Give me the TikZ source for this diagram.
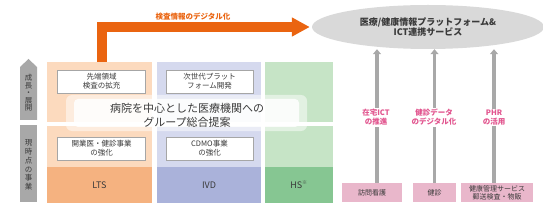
\documentclass[tikz,border=0pt]{standalone}
\usepackage{fontspec}
\setmainfont{Noto Sans CJK JP}
\usetikzlibrary{shapes.geometric,calc,arrows.meta,positioning}
\definecolor{ltslight}{HTML}{FCDABE}
\definecolor{ltsdark}{HTML}{F5B280}
\definecolor{ivdlight}{HTML}{D5D9EE}
\definecolor{ivddark}{HTML}{AAB2DA}
\definecolor{hslight}{HTML}{C6E4C6}
\definecolor{hsdark}{HTML}{86C692}
\definecolor{orangeline}{HTML}{EA6410}
\definecolor{pinktext}{HTML}{E2558F}
\definecolor{pinkbox}{HTML}{E9B7CB}
\definecolor{sidegray}{HTML}{A8A8A8}
\definecolor{textgray}{HTML}{3A3A3A}

\begin{document}
\begin{tikzpicture}[x=1pt,y=-1pt, every node/.style={font=\fontsize{7.5}{9}\selectfont, inner sep=0pt, text=textgray},
    plainbox/.style={draw=gray!70, fill=white, align=center, minimum width=88pt, minimum height=23pt},
    servicebox/.style={fill=pinkbox, align=center, minimum height=19pt, font=\fontsize{7}{8}\selectfont},
    uparrow/.style={draw=sidegray, line width=3.5pt, -{Triangle[length=5pt,width=8pt]}},
    pinklabel/.style={fill=white, align=center, text=pinktext, inner sep=1pt, font=\bfseries\fontsize{7.5}{9}\selectfont}]
    \useasboundingbox (0,0) rectangle (543,203);
    % side labels
    \fill[sidegray] (20,120) -- (20,67) -- (28.5,59) -- (37,67) -- (37,120) -- cycle;
    \fill[sidegray] (20,125) rectangle (37,202);
    \node[align=center, font=\fontsize{7.5}{7.5}\selectfont] (growth) at (28.5,93) {成\\長\\・\\展\\開};
    \node[align=center, font=\fontsize{7.5}{8.8}\selectfont] (current) at (28.5,165) {現\\時\\点\\の\\事\\業};
    % columns
    \node[fill=ltslight, minimum width=105pt, minimum height=60pt] (ltsup) at (99.5,92) {};
    \node[fill=ltslight, minimum width=105pt, minimum height=41pt] (ltslow) at (99.5,146.5) {};
    \node[fill=ltsdark, minimum width=105pt, minimum height=36pt, font=\fontsize{9}{10}\selectfont] (lts) at (99.5,185) {LTS};
    \node[fill=ivdlight, minimum width=104pt, minimum height=60pt] (ivdup) at (209,92) {};
    \node[fill=ivdlight, minimum width=104pt, minimum height=41pt] (ivdlow) at (209,146.5) {};
    \node[fill=ivddark, minimum width=104pt, minimum height=36pt, font=\fontsize{9}{10}\selectfont] (ivd) at (209,185) {IVD};
    \node[fill=hslight, minimum width=68pt, minimum height=60pt] (hsup) at (299,92) {};
    \node[fill=hslight, minimum width=68pt, minimum height=41pt] (hslow) at (299,146.5) {};
    \node[fill=hsdark, minimum width=68pt, minimum height=36pt, font=\fontsize{9}{10}\selectfont] (hs) at (299,185) {HS\textsuperscript{\fontsize{5}{5}\selectfont ※}};
    % inner boxes
    \node[plainbox] (frontier) at (101.5,81.5) {先端領域\\検査の拡充};
    \node[plainbox, minimum width=87pt] (nextgen) at (209.5,81.5) {次世代プラット\\フォーム開発};
    \node[plainbox] (clinic) at (101.5,148.5) {開業医・健診事業\\の強化};
    \node[plainbox, minimum width=87pt] (cdmo) at (209.5,148.5) {CDMO事業\\の強化};
    % glow behind the proposal
    \fill[white, opacity=0.5, rounded corners=6pt] (66,95) rectangle (307,131);
    \fill[white, opacity=0.85, rounded corners=4pt] (74,99) rectangle (299,127);
    \node[align=center, font=\fontsize{11}{14}\selectfont] (proposal) at (187,115) {病院を中心とした医療機関への\\グループ総合提案};
    % platform
    \node[ellipse, fill=gray!30, minimum width=232pt, minimum height=44pt, align=center, font=\bfseries\fontsize{9}{10.5}\selectfont] (platform) at (428,27) {医療/健康情報プラットフォーム\&\\ICT連携サービス};
    \draw[orangeline, line width=10pt, -{Triangle[length=18pt,width=18pt]}] ([xshift=2pt]ltsup.north) |- ([xshift=-2pt]platform.west);
    \node[text=orangeline, font=\bfseries\fontsize{7.5}{9}\selectfont] (digital) at (193,17) {検査情報のデジタル化};
    % services
    \node[servicebox, minimum width=60pt] (visit) at (372,192.5) {訪問看護};
    \node[servicebox, minimum width=43pt] (checkup) at (434.5,192.5) {健診};
    \node[servicebox, minimum width=72pt] (health) at (497,192.5) {健康管理サービス\\郵送検査・物販};
    \draw[uparrow] ([xshift=5pt]visit.north) -- ([xshift=5pt]visit.north |- platform.south);
    \draw[uparrow] (checkup.north) -- (checkup.north |- platform.south);
    \draw[uparrow] ([xshift=-3pt]health.north) -- ([xshift=-3pt]health.north |- platform.south);
    \node[pinklabel] (homeict) at (376,117.5) {在宅ICT\\の推進};
    \node[pinklabel] (checkdata) at (434,117.5) {健診データ\\のデジタル化};
    \node[pinklabel] (phr) at (494,117.5) {PHR\\の活用};
\end{tikzpicture}
\end{document}
